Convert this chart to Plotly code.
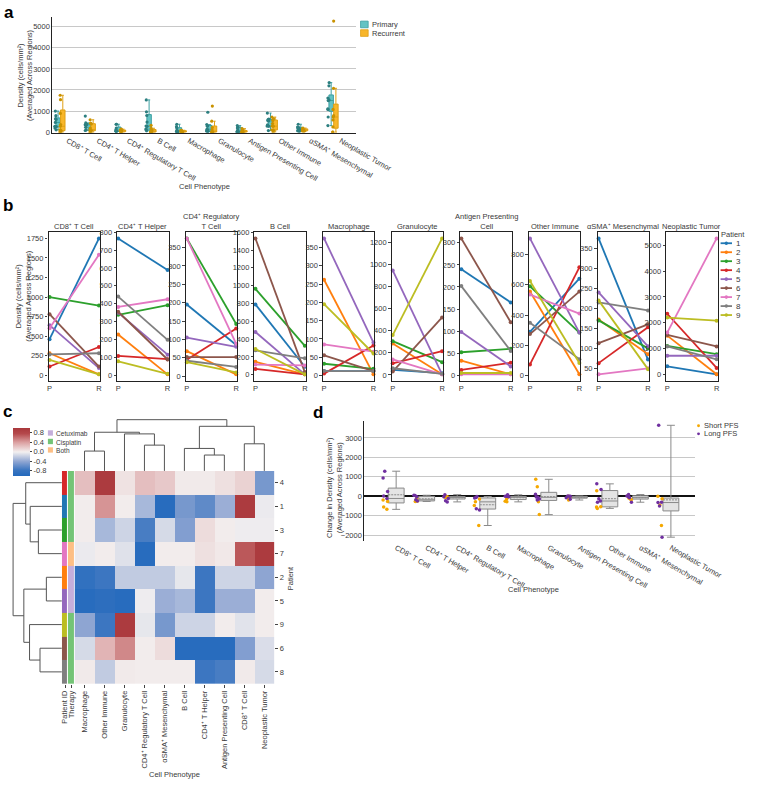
import plotly.graph_objects as go

W, H = 779, 785
def fx(x): return x / W
def fy(y): return 1 - y / H

FONT = "Liberation Sans, Arial, sans-serif"
INK = "#3a3a3a"
FS = 7.5

# ---------------- data ----------------
patients = ["1", "2", "3", "4", "5", "6", "7", "8", "9"]
patient_colors = ["#1f77b4", "#ff7f0e", "#2ca02c", "#d62728", "#9467bd",
                  "#8c564b", "#e377c2", "#7f7f7f", "#bcbd22"]
pfs_group = ["Long", "Short", "Long", "Long", "Short", "Short", "Long", "Long", "Short"]

cell_types = ["CD8⁺ T Cell", "CD4⁺ T Helper", "CD4⁺ Regulatory T Cell", "B Cell",
              "Macrophage", "Granulocyte", "Antigen Presenting Cell", "Other Immune",
              "αSMA⁺ Mesenchymal", "Neoplastic Tumor"]
b_titles = ["CD8⁺ T Cell", "CD4⁺ T Helper", "CD4⁺ Regulatory<br>T Cell", "B Cell",
            "Macrophage", "Granulocyte", "Antigen Presenting<br>Cell", "Other Immune",
            "αSMA⁺ Mesenchymal", "Neoplastic Tumor"]
b_dtick = [250, 100, 50, 200, 50, 200, 50, 200, 50, 1000]

# density (cells/mm²), patients 1-9, primary (P) and recurrent (R)
p_cd8 = [460, 280, 1000, 110, 640, 780, 600, 265, 195]
r_cd8 = [1750, 10, 890, 360, 90, 110, 1540, 280, 10]
p_cd4h = [765, 228, 338, 108, 350, 355, 382, 440, 78]
r_cd4h = [588, 5, 392, 90, 115, 88, 425, 198, 8]
p_treg = [195, 68, 375, 45, 105, 52, 375, 42, 38]
r_treg = [85, 5, 142, 130, 80, 52, 88, 25, 10]
p_bcell = [790, 145, 965, 65, 480, 1530, 115, 275, 290]
r_bcell = [90, 5, 325, 5, 5, 30, 105, 185, 5]
p_mac = [12, 262, 32, 5, 375, 55, 85, 12, 195]
r_mac = [12, 3, 18, 82, 90, 12, 65, 12, 60]
p_gran = [45, 285, 305, 105, 945, 30, 140, 60, 360]
r_gran = [15, 5, 115, 215, 5, 520, 5, 10, 1235]
p_apc = [240, 33, 52, 12, 98, 310, 2, 202, 5]
r_apc = [165, 2, 60, 28, 20, 120, 2, 55, 5]
p_oth = [290, 555, 590, 75, 905, 275, 535, 350, 625]
r_oth = [640, 10, 285, 715, 285, 555, 410, 110, 85]
p_sma = [375, 172, 170, 63, 240, 113, 35, 215, 220]
r_sma = [72, 85, 100, 153, 105, 160, 50, 195, 48]
p_neo = [310, 1500, 1100, 2350, 720, 1530, 1620, 1080, 2200]
r_neo = [0, 0, 780, 250, 720, 1080, 5270, 580, 2080]

primary = [p_cd8, p_cd4h, p_treg, p_bcell, p_mac, p_gran, p_apc, p_oth, p_sma, p_neo]
recurrent = [r_cd8, r_cd4h, r_treg, r_bcell, r_mac, r_gran, r_apc, r_oth, r_sma, r_neo]

# panel c: clustered correlation heatmap
heat_rows = ["4", "1", "3", "7", "2", "5", "9", "6", "8"]
heat_cols = ["Macrophage", "Other Immune", "Granulocyte", "CD4⁺ Regulatory T Cell",
             "αSMA⁺ Mesenchymal", "B Cell", "CD4⁺ T Helper", "Antigen Presenting Cell",
             "CD8⁺ T Cell", "Neoplastic Tumor"]
heat_z = [
    [0.25, 0.95, 0.07, 0.25, 0.2, 0.03, 0.03, 0.08, 0.15, -0.5],
    [0.02, 0.45, 0.02, -0.3, -0.95, -0.5, -0.6, -0.35, 0.95, -0.03],
    [0.02, -0.3, -0.15, -0.7, -0.12, -0.45, 0.1, 0.02, -0.02, -0.02],
    [-0.03, 0.02, -0.08, -0.95, 0.02, 0.02, 0.08, 0.04, 0.7, 0.95],
    [-0.85, -0.75, -0.2, -0.2, -0.2, -0.05, -0.75, -0.15, -0.15, -0.4],
    [-0.95, -0.9, -0.95, -0.02, -0.35, -0.3, -0.75, -0.35, -0.35, 0.02],
    [-0.4, -0.75, 0.95, -0.05, -0.5, -0.15, -0.15, 0.02, -0.07, 0.02],
    [-0.12, 0.3, 0.5, 0.02, 0.1, -0.95, -0.95, -0.95, -0.45, -0.1],
    [0.03, -0.2, 0.03, 0.02, 0.02, 0.02, -0.75, -0.7, 0.03, -0.12],
]
therapy_names = ["Cetuximab", "Cisplatin", "Both"]
therapy_colors = ["#c4aedb", "#74c476", "#fdbf85"]
heat_therapy = ["Cisplatin", "Cisplatin", "Cisplatin", "Both", "Cetuximab",
                "Cetuximab", "Cisplatin", "Cisplatin", "Cisplatin"]
# linkage: (child a, child b, height); clusters numbered n, n+1, ...
col_linkage = [(3, 4, 78), (0, 1, 60), (2, 10, 112), (11, 12, 117), (6, 7, 48),
               (5, 14, 68), (8, 9, 82), (15, 16, 135), (13, 17, 155)]
row_linkage = [(2, 3, 24.7), (1, 9, 33.3), (0, 10, 38), (4, 5, 16.3), (7, 8, 23),
               (6, 13, 34), (12, 14, 40), (11, 15, 51.3)]

vlag = [[0.0, "#2369bd"], [0.12, "#3a75c0"], [0.3, "#8ea5d2"], [0.5, "#f3f0f0"],
        [0.7, "#dba0a1"], [0.88, "#b5494c"], [1.0, "#a9373b"]]

# ---------------- figure ----------------
fig = go.Figure()
layout = dict(width=W, height=H, margin=dict(l=0, r=0, t=0, b=0),
              paper_bgcolor="white", plot_bgcolor="white", showlegend=False,
              font=dict(family=FONT, size=FS, color=INK), boxmode="group",
              boxgap=0.22, boxgroupgap=0.06)
annotations = []
shapes = []

def ann(text, x, y, size=FS, xanchor="center", yanchor="middle", angle=0, bold=False, color=INK):
    annotations.append(dict(text=("<b>%s</b>" % text) if bold else text, x=fx(x), y=fy(y),
                            xref="paper", yref="paper", showarrow=False, xanchor=xanchor,
                            yanchor=yanchor, textangle=angle,
                            font=dict(family=FONT, size=size, color=color)))

# ---- panel a ----
teal_fill, teal_line, teal_pt = "#63c3c4", "#3c9fa1", "#2c7f80"
gold_fill, gold_line, gold_pt = "#f8b62a", "#e0a015", "#c99200"
for vals, name, fc, lc, pc in [(primary, "Primary", teal_fill, teal_line, teal_pt),
                               (recurrent, "Recurrent", gold_fill, gold_line, gold_pt)]:
    xs = [ct for ct, v in zip(cell_types, vals) for _ in v]
    ys = [y for v in vals for y in v]
    fig.add_trace(go.Box(x=xs, y=ys, name=name, xaxis="x", yaxis="y",
                         boxpoints="all", jitter=0.45, pointpos=-1.1,
                         fillcolor=fc, line=dict(color=lc, width=1), whiskerwidth=0.5,
                         marker=dict(color=pc, size=3.2)))
layout["xaxis"] = dict(domain=[fx(54), fx(373)], anchor="y", showline=True, linecolor="#222",
                       linewidth=1, tickangle=30, showgrid=False, ticks="",
                       categoryorder="array", categoryarray=cell_types)
layout["yaxis"] = dict(domain=[fy(130), fy(13)], anchor="x", range=[-25, 5470], showline=True,
                       linecolor="#222", linewidth=1, showgrid=True, gridcolor="#c8c8c8",
                       tickvals=[0, 1000, 2000, 3000, 4000, 5000], zeroline=False, ticks="")
ann("a", 8, 9, size=17, bold=True, color="black")
ann("Density (cells/mm²)<br>(Averaged Across Regions)", 25, 72, angle=-90)
ann("Cell Phenotype", 214, 184)
shapes.append(dict(type="rect", xref="paper", yref="paper", x0=fx(378), x1=fx(386),
                   y0=fy(24), y1=fy(17.3), fillcolor=teal_fill, line=dict(color=teal_line, width=0.8)))
shapes.append(dict(type="rect", xref="paper", yref="paper", x0=fx(378), x1=fx(386),
                   y0=fy(32.7), y1=fy(26), fillcolor=gold_fill, line=dict(color=gold_line, width=0.8)))
ann("Primary", 387.5, 20.7, xanchor="left")
ann("Recurrent", 387.5, 29.3, xanchor="left")

# ---- panel b ----
ann("b", 7, 204, size=17, bold=True, color="black")
for i in range(10):
    L = 50 + 72.15 * i
    xa, ya = "x%d" % (i + 2), "y%d" % (i + 2)
    allv = primary[i] + recurrent[i]
    lo, hi = min(allv), max(allv)
    span = hi - lo
    for j, pid in enumerate(patients):
        fig.add_trace(go.Scatter(x=[0, 1], y=[primary[i][j], recurrent[i][j]], mode="lines+markers",
                                 xaxis=xa, yaxis=ya, name=pid, cliponaxis=False,
                                 line=dict(color=patient_colors[j], width=1.8),
                                 marker=dict(color=patient_colors[j], size=4)))
    layout["xaxis%d" % (i + 2)] = dict(domain=[fx(L), fx(L + 54)], anchor=ya, range=[-0.02, 1.02],
                                       tickvals=[0, 1], ticktext=["P", "R"], showline=True, mirror=True,
                                       linecolor="#222", linewidth=1.2, showgrid=False, zeroline=False,
                                       ticks="")
    layout["yaxis%d" % (i + 2)] = dict(domain=[fy(381), fy(230)], anchor=xa,
                                       range=[lo - 0.05 * span, hi + 0.05 * span], dtick=b_dtick[i],
                                       showline=True, mirror=True, linecolor="#222", linewidth=1.2,
                                       showgrid=False, zeroline=False, ticks="outside", ticklen=2.5,
                                       tickcolor="#444")
    ann(b_titles[i], L + 27, 220.2 if "<br>" in b_titles[i] else 224.3)
ann("Density (cells/mm²)<br>(Averaged Across Regions)", 24, 295, angle=-90)
ann("Patient", 755, 233, xanchor="left")
for j, pid in enumerate(patients):
    yy = 241.7 + 9.07 * j
    shapes.append(dict(type="line", xref="paper", yref="paper", x0=fx(756.5), x1=fx(768.5),
                       y0=fy(yy), y1=fy(yy), line=dict(color=patient_colors[j], width=1.8)))
    shapes.append(dict(type="circle", xref="paper", yref="paper", x0=fx(760.7), x1=fx(764.3),
                       y0=fy(yy + 1.8), y1=fy(yy - 1.8), fillcolor=patient_colors[j],
                       line=dict(width=0)))
    ann(pid, 771, yy, size=8, xanchor="left")

# ---- panel c ----
ann("c", 7, 411.6, size=17, bold=True, color="black")
fig.add_trace(go.Heatmap(z=heat_z, x=list(range(len(heat_cols))), y=list(range(len(heat_rows))),
                         xaxis="x12", yaxis="y12", zmin=-1, zmax=1, colorscale=vlag,
                         colorbar=dict(x=fx(12.3), xanchor="left", y=fy(428), yanchor="top",
                                       len=48.7 / H, lenmode="fraction", thickness=17,
                                       thicknessmode="pixels", xpad=0, ypad=0, outlinewidth=0,
                                       tickvals=[-0.8, -0.4, 0, 0.4, 0.8],
                                       ticktext=["-0.8", "-0.4", "0.0", "0.4", "0.8"],
                                       ticks="outside", ticklen=2.5, tickfont=dict(size=FS))))
# row annotation strip (patient colour + therapy)
strip_colors = patient_colors + therapy_colors
nstrip = len(strip_colors)
strip_scale = []
for k, c in enumerate(strip_colors):
    strip_scale += [[k / nstrip, c], [(k + 1) / nstrip, c]]
strip_z = [[patients.index(r), len(patients) + therapy_names.index(t)]
           for r, t in zip(heat_rows, heat_therapy)]
fig.add_trace(go.Heatmap(z=strip_z, x=[0, 1], y=list(range(len(heat_rows))), xaxis="x13", yaxis="y12",
                         zmin=-0.5, zmax=nstrip - 0.5, colorscale=strip_scale, showscale=False,
                         xgap=1))

def dendro(linkage, n):
    pos = {i: float(i) for i in range(n)}
    hgt = {i: 0.0 for i in range(n)}
    a_s, h_s = [], []
    for k, (a, b, h) in enumerate(linkage):
        a_s += [pos[a], pos[a], pos[b], pos[b], None]
        h_s += [hgt[a], h, h, hgt[b], None]
        pos[n + k] = (pos[a] + pos[b]) / 2
        hgt[n + k] = h
    return a_s, h_s

cx, ch = dendro(col_linkage, len(heat_cols))
fig.add_trace(go.Scatter(x=cx, y=ch, mode="lines", xaxis="x12", yaxis="y13",
                         line=dict(color="#555", width=1), hoverinfo="skip"))
ry, rh = dendro(row_linkage, len(heat_rows))
fig.add_trace(go.Scatter(x=rh, y=ry, mode="lines", xaxis="x14", yaxis="y12",
                         line=dict(color="#555", width=1), hoverinfo="skip"))

layout["xaxis12"] = dict(domain=[fx(77.3), fx(287.3)], anchor="y12", range=[-0.5, 9.5],
                         tickvals=list(range(10)), ticktext=heat_cols, tickangle=-90,
                         ticks="outside", ticklen=3, tickcolor="#444", showgrid=False,
                         zeroline=False, showline=False)
layout["yaxis12"] = dict(domain=[fy(686.7), fy(471.7)], anchor="x12", range=[8.5, -0.5],
                         side="right", tickvals=list(range(9)), ticktext=heat_rows,
                         ticks="outside", ticklen=3, tickcolor="#444", showgrid=False,
                         zeroline=False, showline=False)
layout["xaxis13"] = dict(domain=[fx(64), fx(77.3)], anchor="y12", range=[-0.5, 1.5],
                         tickvals=[0, 1], ticktext=["Patient ID", "Therapy"], tickangle=-90,
                         ticks="outside", ticklen=3, tickcolor="#444", showgrid=False,
                         zeroline=False)
layout["xaxis14"] = dict(domain=[0, fx(64)], anchor="y12", range=[64, 0], visible=False)
layout["yaxis13"] = dict(domain=[fy(471.7), fy(418.3)], anchor="x12", range=[0, 160], visible=False)
ann("Patient", 304, 580, angle=-90)
ann("Cell Phenotype", 182, 778)
# therapy legend: one multi-line text block with matching swatches
TL_FS = 6.6
tl_step = TL_FS * 1.3
annotations.append(dict(text="<br>".join(therapy_names), x=fx(55.5), y=fy(428.5),
                        xref="paper", yref="paper", showarrow=False, xanchor="left",
                        yanchor="top", align="left",
                        font=dict(family=FONT, size=TL_FS, color=INK)))
for k, tc in enumerate(therapy_colors):
    yy = 428.5 + tl_step * (k + 0.5) + 0.6
    shapes.append(dict(type="rect", xref="paper", yref="paper", x0=fx(49.3), x1=fx(54.6),
                       y0=fy(yy + 2.7), y1=fy(yy - 2.7), fillcolor=tc, line=dict(width=0)))

# ---- panel d ----
ann("d", 333, 412.6, size=17, bold=True, color="black")
xs_all, ys_all = [], []
pts = {"Short": ([], []), "Long": ([], [])}
for ct, pv, rv in zip(cell_types, primary, recurrent):
    for j in range(len(patients)):
        d = rv[j] - pv[j]
        xs_all.append(ct)
        ys_all.append(d)
        pts[pfs_group[j]][0].append(ct)
        pts[pfs_group[j]][1].append(d)
fig.add_trace(go.Box(x=xs_all, y=ys_all, xaxis="x15", yaxis="y14", boxpoints=False, boxmean=True,
                     offsetgroup="d", width=0.52, fillcolor="#e4e4e4",
                     line=dict(color="#8a8a8a", width=1), whiskerwidth=0.5))
pfs_colors = {"Short": "#f5a800", "Long": "#7030a0"}
for g in ["Short", "Long"]:
    fig.add_trace(go.Box(x=pts[g][0], y=pts[g][1], xaxis="x15", yaxis="y14", boxpoints="all",
                         offsetgroup="d", width=0.52, jitter=0.35, pointpos=-1.35,
                         fillcolor="rgba(0,0,0,0)", line=dict(color="rgba(0,0,0,0)", width=0),
                         whiskerwidth=0, marker=dict(color=pfs_colors[g], size=3.5)))
layout["xaxis15"] = dict(domain=[fx(382), fx(730)], anchor="y14", tickangle=30, showgrid=False,
                         showline=False, ticks="", categoryorder="array", categoryarray=cell_types)
layout["yaxis14"] = dict(domain=[fy(542.7), fy(421.7)], anchor="x15", range=[-2305, 3850],
                         tickvals=[-2000, -1000, 0, 1000, 2000, 3000], showline=True,
                         linecolor="#222", linewidth=1, showgrid=True, gridcolor="#c8c8c8",
                         zeroline=True, zerolinecolor="#111", zerolinewidth=1.6, ticks="")
ann("Change in Density (cells/mm²)<br>(Averaged Across Regions)", 350, 488, angle=-90)
ann("Cell Phenotype", 560, 592)
for k, g in enumerate(["Short", "Long"]):
    yy = 426 + 8.3 * k
    shapes.append(dict(type="circle", xref="paper", yref="paper", x0=fx(731.8), x1=fx(734.8),
                       y0=fy(yy + 1.5), y1=fy(yy - 1.5), fillcolor=pfs_colors[g], line=dict(width=0)))
    ann(g + " PFS", 737, yy, xanchor="left")

layout["annotations"] = annotations
layout["shapes"] = shapes
fig.update_layout(**layout)
fig.write_html("out.html", config={"displayModeBar": False},
               post_script="document.body.style.margin='0px';")
